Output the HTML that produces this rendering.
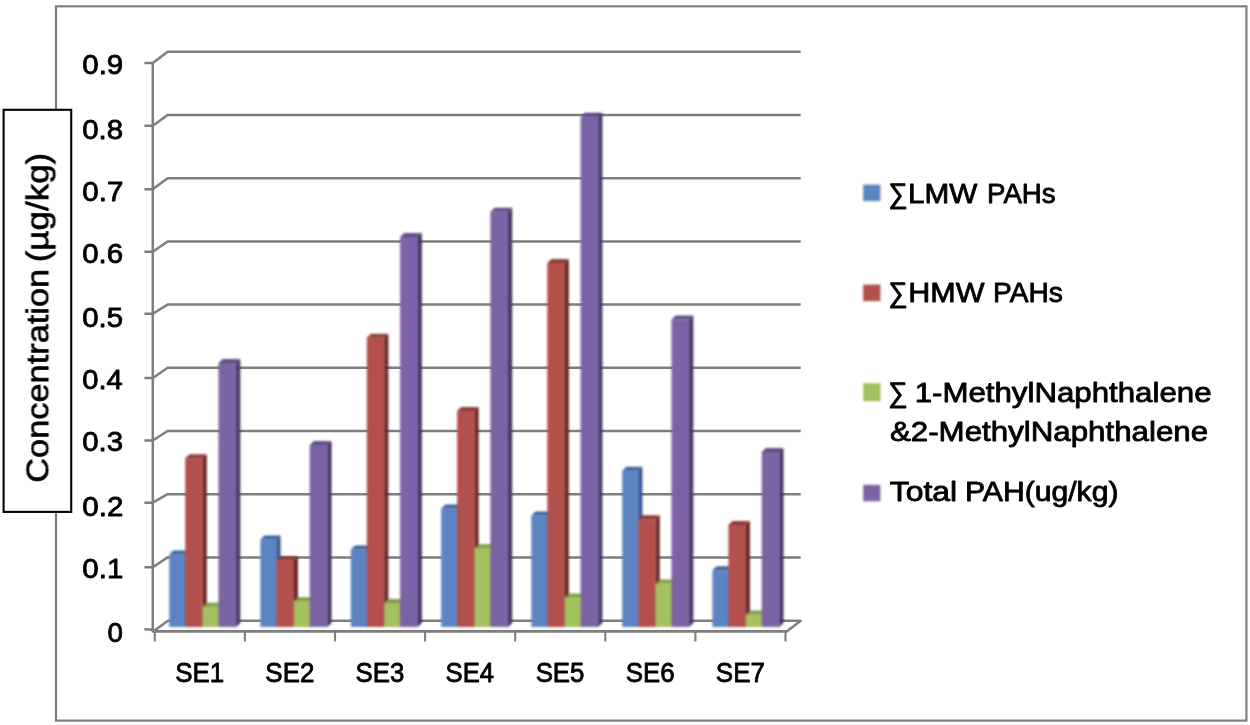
<!DOCTYPE html>
<html lang="en"><head><meta charset="utf-8"><title>PAH concentration chart</title>
<style>html,body{margin:0;padding:0;background:#fff;}body{width:1250px;height:725px;overflow:hidden;}svg{display:block;}.gfx{filter:blur(0.8px);}.ln{filter:blur(0.7px);}.txt{filter:blur(0.45px);}</style>
</head><body>
<svg width="1250" height="725" viewBox="0 0 1250 725" font-family='"Liberation Sans", "DejaVu Sans", sans-serif'>
<rect x="0" y="0" width="1250" height="725" fill="#fff"/>
<g class="ln">
<rect x="56" y="6.3" width="1190.4" height="714.3" fill="none" stroke="#7e7e7e" stroke-width="2.2"/>
</g>
<g class="txt"><rect x="3.6" y="109.8" width="67.6" height="402.1" fill="#fff" stroke="#000" stroke-width="2.1"/></g>
<g class="ln" stroke="#7e7e7e" stroke-width="2.5" fill="none" stroke-linecap="butt" stroke-linejoin="round">
<polyline points="144.4,567.3 152.8,567.3 167.6,557.4 800.7,557.4"/>
<polyline points="144.4,502.7 152.8,502.7 167.6,494.2 800.7,494.2"/>
<polyline points="144.4,440.5 152.8,440.5 167.6,431.0 800.7,431.0"/>
<polyline points="144.4,378.0 152.8,378.0 167.6,367.8 800.7,367.8"/>
<polyline points="144.4,313.8 152.8,313.8 167.6,304.6 800.7,304.6"/>
<polyline points="144.4,251.8 152.8,251.8 167.6,241.4 800.7,241.4"/>
<polyline points="144.4,189.3 152.8,189.3 167.6,178.2 800.7,178.2"/>
<polyline points="144.4,125.7 152.8,125.7 167.6,115.0 800.7,115.0"/>
<polyline points="144.4,63.1 152.8,63.1 167.6,51.8 800.7,51.8"/>
<polyline points="144.4,629.2 152.8,629.8"/>
<polygon points="153.5,631.2 168,620.7 800.7,620.7 787,631.2" fill="#fff"/>
<line x1="152.8" y1="62" x2="152.8" y2="632.2"/>
<line x1="154.8" y1="631" x2="154.8" y2="641.5" stroke-width="2.1"/>
<line x1="244.9" y1="631" x2="244.9" y2="641.5" stroke-width="2.1"/>
<line x1="335.0" y1="631" x2="335.0" y2="641.5" stroke-width="2.1"/>
<line x1="425.1" y1="631" x2="425.1" y2="641.5" stroke-width="2.1"/>
<line x1="515.2" y1="631" x2="515.2" y2="641.5" stroke-width="2.1"/>
<line x1="605.3" y1="631" x2="605.3" y2="641.5" stroke-width="2.1"/>
<line x1="695.4" y1="631" x2="695.4" y2="641.5" stroke-width="2.1"/>
<line x1="785.5" y1="631" x2="785.5" y2="641.5" stroke-width="2.1"/>
</g>
<g class="gfx">
<polygon points="185.2,554.5 189.4,550.5 189.4,623.0 185.2,627.0" fill="#375892"/>
<polygon points="169.2,554.5 173.4,550.5 189.4,550.5 185.2,554.5" fill="#3F63A2"/>
<rect x="169.2" y="554.5" width="16.2" height="72.5" fill="#5C84C2"/>
<polygon points="202.6,458.2 206.8,454.2 206.8,623.0 202.6,627.0" fill="#682A28"/>
<polygon points="185.2,458.2 189.4,454.2 206.8,454.2 202.6,458.2" fill="#8E3C39"/>
<rect x="185.2" y="458.2" width="17.6" height="168.8" fill="#B3504C"/>
<polygon points="218.5,606.8 222.7,602.8 222.7,623.0 218.5,627.0" fill="#667F32"/>
<polygon points="202.6,606.8 206.8,602.8 222.7,602.8 218.5,606.8" fill="#7F9C42"/>
<rect x="202.6" y="606.8" width="16.1" height="20.2" fill="#A3C15C"/>
<polygon points="236.1,363.0 240.3,359.0 240.3,623.0 236.1,627.0" fill="#443763"/>
<polygon points="218.5,363.0 222.7,359.0 240.3,359.0 236.1,363.0" fill="#5F4D88"/>
<rect x="218.5" y="363.0" width="17.8" height="264.0" fill="#7B63A5"/>
<polygon points="276.4,539.4 280.6,535.4 280.6,623.0 276.4,627.0" fill="#375892"/>
<polygon points="260.4,539.4 264.6,535.4 280.6,535.4 276.4,539.4" fill="#3F63A2"/>
<rect x="260.4" y="539.4" width="16.2" height="87.6" fill="#5C84C2"/>
<polygon points="293.8,560.2 298.0,556.2 298.0,623.0 293.8,627.0" fill="#682A28"/>
<polygon points="276.4,560.2 280.6,556.2 298.0,556.2 293.8,560.2" fill="#8E3C39"/>
<rect x="276.4" y="560.2" width="17.6" height="66.8" fill="#B3504C"/>
<polygon points="309.7,601.2 313.9,597.2 313.9,623.0 309.7,627.0" fill="#667F32"/>
<polygon points="293.8,601.2 298.0,597.2 313.9,597.2 309.7,601.2" fill="#7F9C42"/>
<rect x="293.8" y="601.2" width="16.1" height="25.8" fill="#A3C15C"/>
<polygon points="327.3,444.9 331.5,440.9 331.5,623.0 327.3,627.0" fill="#443763"/>
<polygon points="309.7,444.9 313.9,440.9 331.5,440.9 327.3,444.9" fill="#5F4D88"/>
<rect x="309.7" y="444.9" width="17.8" height="182.1" fill="#7B63A5"/>
<polygon points="366.8,549.5 371.0,545.5 371.0,623.0 366.8,627.0" fill="#375892"/>
<polygon points="350.8,549.5 355.0,545.5 371.0,545.5 366.8,549.5" fill="#3F63A2"/>
<rect x="350.8" y="549.5" width="16.2" height="77.5" fill="#5C84C2"/>
<polygon points="384.2,337.8 388.4,333.8 388.4,623.0 384.2,627.0" fill="#682A28"/>
<polygon points="366.8,337.8 371.0,333.8 388.4,333.8 384.2,337.8" fill="#8E3C39"/>
<rect x="366.8" y="337.8" width="17.6" height="289.2" fill="#B3504C"/>
<polygon points="400.1,603.1 404.3,599.1 404.3,623.0 400.1,627.0" fill="#667F32"/>
<polygon points="384.2,603.1 388.4,599.1 404.3,599.1 400.1,603.1" fill="#7F9C42"/>
<rect x="384.2" y="603.1" width="16.1" height="23.9" fill="#A3C15C"/>
<polygon points="417.7,237.0 421.9,233.0 421.9,623.0 417.7,627.0" fill="#443763"/>
<polygon points="400.1,237.0 404.3,233.0 421.9,233.0 417.7,237.0" fill="#5F4D88"/>
<rect x="400.1" y="237.0" width="17.8" height="390.0" fill="#7B63A5"/>
<polygon points="457.1,508.6 461.3,504.6 461.3,623.0 457.1,627.0" fill="#375892"/>
<polygon points="441.1,508.6 445.3,504.6 461.3,504.6 457.1,508.6" fill="#3F63A2"/>
<rect x="441.1" y="508.6" width="16.2" height="118.4" fill="#5C84C2"/>
<polygon points="474.5,410.9 478.7,406.9 478.7,623.0 474.5,627.0" fill="#682A28"/>
<polygon points="457.1,410.9 461.3,406.9 478.7,406.9 474.5,410.9" fill="#8E3C39"/>
<rect x="457.1" y="410.9" width="17.6" height="216.1" fill="#B3504C"/>
<polygon points="490.4,548.2 494.6,544.2 494.6,623.0 490.4,627.0" fill="#667F32"/>
<polygon points="474.5,548.2 478.7,544.2 494.6,544.2 490.4,548.2" fill="#7F9C42"/>
<rect x="474.5" y="548.2" width="16.1" height="78.8" fill="#A3C15C"/>
<polygon points="508.0,211.8 512.2,207.8 512.2,623.0 508.0,627.0" fill="#443763"/>
<polygon points="490.4,211.8 494.6,207.8 512.2,207.8 508.0,211.8" fill="#5F4D88"/>
<rect x="490.4" y="211.8" width="17.8" height="415.2" fill="#7B63A5"/>
<polygon points="547.3,515.5 551.5,511.5 551.5,623.0 547.3,627.0" fill="#375892"/>
<polygon points="531.3,515.5 535.5,511.5 551.5,511.5 547.3,515.5" fill="#3F63A2"/>
<rect x="531.3" y="515.5" width="16.2" height="111.5" fill="#5C84C2"/>
<polygon points="564.7,262.9 568.9,258.9 568.9,623.0 564.7,627.0" fill="#682A28"/>
<polygon points="547.3,262.9 551.5,258.9 568.9,258.9 564.7,262.9" fill="#8E3C39"/>
<rect x="547.3" y="262.9" width="17.6" height="364.1" fill="#B3504C"/>
<polygon points="580.6,597.4 584.8,593.4 584.8,623.0 580.6,627.0" fill="#667F32"/>
<polygon points="564.7,597.4 568.9,593.4 584.8,593.4 580.6,597.4" fill="#7F9C42"/>
<rect x="564.7" y="597.4" width="16.1" height="29.6" fill="#A3C15C"/>
<polygon points="598.2,116.7 602.4,112.7 602.4,623.0 598.2,627.0" fill="#443763"/>
<polygon points="580.6,116.7 584.8,112.7 602.4,112.7 598.2,116.7" fill="#5F4D88"/>
<rect x="580.6" y="116.7" width="17.8" height="510.3" fill="#7B63A5"/>
<polygon points="638.2,470.8 642.4,466.8 642.4,623.0 638.2,627.0" fill="#375892"/>
<polygon points="622.2,470.8 626.4,466.8 642.4,466.8 638.2,470.8" fill="#3F63A2"/>
<rect x="622.2" y="470.8" width="16.2" height="156.2" fill="#5C84C2"/>
<polygon points="655.6,519.3 659.8,515.3 659.8,623.0 655.6,627.0" fill="#682A28"/>
<polygon points="638.2,519.3 642.4,515.3 659.8,515.3 655.6,519.3" fill="#8E3C39"/>
<rect x="638.2" y="519.3" width="17.6" height="107.7" fill="#B3504C"/>
<polygon points="671.5,583.5 675.7,579.5 675.7,623.0 671.5,627.0" fill="#667F32"/>
<polygon points="655.6,583.5 659.8,579.5 675.7,579.5 671.5,583.5" fill="#7F9C42"/>
<rect x="655.6" y="583.5" width="16.1" height="43.5" fill="#A3C15C"/>
<polygon points="689.1,319.6 693.3,315.6 693.3,623.0 689.1,627.0" fill="#443763"/>
<polygon points="671.5,319.6 675.7,315.6 693.3,315.6 689.1,319.6" fill="#5F4D88"/>
<rect x="671.5" y="319.6" width="17.8" height="307.4" fill="#7B63A5"/>
<polygon points="728.4,570.3 732.6,566.3 732.6,623.0 728.4,627.0" fill="#375892"/>
<polygon points="712.4,570.3 716.6,566.3 732.6,566.3 728.4,570.3" fill="#3F63A2"/>
<rect x="712.4" y="570.3" width="16.2" height="56.7" fill="#5C84C2"/>
<polygon points="745.8,524.9 750.0,520.9 750.0,623.0 745.8,627.0" fill="#682A28"/>
<polygon points="728.4,524.9 732.6,520.9 750.0,520.9 745.8,524.9" fill="#8E3C39"/>
<rect x="728.4" y="524.9" width="17.6" height="102.1" fill="#B3504C"/>
<polygon points="761.7,614.4 765.9,610.4 765.9,623.0 761.7,627.0" fill="#667F32"/>
<polygon points="745.8,614.4 750.0,610.4 765.9,610.4 761.7,614.4" fill="#7F9C42"/>
<rect x="745.8" y="614.4" width="16.1" height="12.6" fill="#A3C15C"/>
<polygon points="779.3,451.9 783.5,447.9 783.5,623.0 779.3,627.0" fill="#443763"/>
<polygon points="761.7,451.9 765.9,447.9 783.5,447.9 779.3,451.9" fill="#5F4D88"/>
<rect x="761.7" y="451.9" width="17.8" height="175.1" fill="#7B63A5"/>
</g>
<g class="ln">
<line x1="152" y1="631.2" x2="787.6" y2="631.2" stroke="#7e7e7e" stroke-width="2.4"/>
</g>
<g class="txt" fill="#000" stroke="#000" stroke-width="0.85" stroke-linejoin="round" font-size="28.3">
<text x="107.54" y="642.45" textLength="15.42" lengthAdjust="spacingAndGlyphs">0</text>
<text x="82.27" y="577.95" textLength="41.05" lengthAdjust="spacingAndGlyphs">0.1</text>
<text x="82.27" y="515.95" textLength="41.09" lengthAdjust="spacingAndGlyphs">0.2</text>
<text x="82.28" y="451.45" textLength="40.89" lengthAdjust="spacingAndGlyphs">0.3</text>
<text x="82.29" y="389.45" textLength="40.44" lengthAdjust="spacingAndGlyphs">0.4</text>
<text x="82.28" y="327.15" textLength="40.83" lengthAdjust="spacingAndGlyphs">0.5</text>
<text x="82.28" y="262.85" textLength="40.89" lengthAdjust="spacingAndGlyphs">0.6</text>
<text x="82.27" y="200.95" textLength="41.09" lengthAdjust="spacingAndGlyphs">0.7</text>
<text x="82.28" y="138.65" textLength="40.88" lengthAdjust="spacingAndGlyphs">0.8</text>
<text x="82.27" y="74.05" textLength="41.00" lengthAdjust="spacingAndGlyphs">0.9</text>
<text x="175.25" y="682.3" textLength="48.99" lengthAdjust="spacingAndGlyphs">SE1</text>
<text x="265.35" y="682.3" textLength="49.03" lengthAdjust="spacingAndGlyphs">SE2</text>
<text x="355.45" y="682.3" textLength="48.86" lengthAdjust="spacingAndGlyphs">SE3</text>
<text x="445.56" y="682.3" textLength="48.47" lengthAdjust="spacingAndGlyphs">SE4</text>
<text x="535.65" y="682.3" textLength="48.81" lengthAdjust="spacingAndGlyphs">SE5</text>
<text x="625.75" y="682.3" textLength="48.86" lengthAdjust="spacingAndGlyphs">SE6</text>
<text x="715.85" y="682.3" textLength="49.03" lengthAdjust="spacingAndGlyphs">SE7</text>
<text y="203.4"><tspan x="888.40" textLength="19.21" lengthAdjust="spacingAndGlyphs">∑</tspan><tspan x="907.99" textLength="69.39" lengthAdjust="spacingAndGlyphs">LMW</tspan> <tspan x="987.03" textLength="68.52" lengthAdjust="spacingAndGlyphs">PAHs</tspan></text>
<text y="302.4"><tspan x="888.40" textLength="19.21" lengthAdjust="spacingAndGlyphs">∑</tspan><tspan x="908.33" textLength="76.15" lengthAdjust="spacingAndGlyphs">HMW</tspan> <tspan x="993.09" textLength="69.67" lengthAdjust="spacingAndGlyphs">PAHs</tspan></text>
<text y="401.7"><tspan x="888.37" textLength="19.46" lengthAdjust="spacingAndGlyphs">∑</tspan> <tspan x="914.65" textLength="296.92" lengthAdjust="spacingAndGlyphs">1-MethylNaphthalene</tspan></text>
<text y="440.6"><tspan x="889.93" textLength="318.24" lengthAdjust="spacingAndGlyphs">&amp;2-MethylNaphthalene</tspan></text>
<text y="500.9"><tspan x="889.74" textLength="67.46" lengthAdjust="spacingAndGlyphs">Total</tspan> <tspan x="964.99" textLength="153.43" lengthAdjust="spacingAndGlyphs">PAH(ug/kg)</tspan></text>
</g>
<g class="gfx">
<rect x="863.2" y="184.6" width="17.2" height="16.5" fill="#5C84C2"/>
<rect x="863.2" y="284.6" width="17.2" height="16.5" fill="#B3504C"/>
<rect x="863.2" y="383.2" width="17.2" height="18" fill="#A3C15C"/>
<rect x="863.2" y="484.8" width="17.2" height="16.5" fill="#7B63A5"/>
</g>
<g class="txt" transform="translate(48.4,0) rotate(-90)"  font-size="32" fill="#000" stroke="#000" stroke-width="0.6" stroke-linejoin="round">
<text y="0"><tspan x="-482.72" textLength="213.93" lengthAdjust="spacingAndGlyphs">Concentration</tspan> <tspan x="-262.34" textLength="109.59" lengthAdjust="spacingAndGlyphs">(µg/kg)</tspan></text>
</g>
</svg>
</body></html>
